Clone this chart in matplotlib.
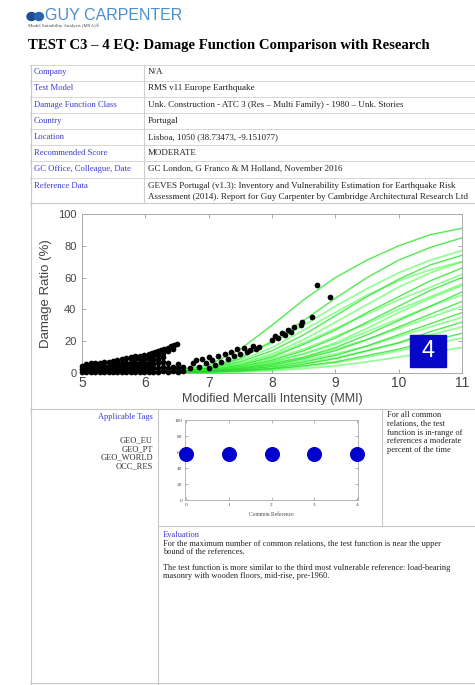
import matplotlib
matplotlib.use('Agg')
import matplotlib.pyplot as plt
from matplotlib.lines import Line2D
from matplotlib.patches import Rectangle, Ellipse

SERIF = ['Liberation Serif', 'DejaVu Serif']
SANS = ['Liberation Sans', 'DejaVu Sans']
plt.rcParams['font.family'] = SANS

# ---------------- data ----------------
title = "TEST C3 \u2013 4 EQ: Damage Function Comparison with Research"
table_labels = ["Company", "Test Model", "Damage Function Class", "Country", "Location",
                "Recommended Score", "GC Office, Colleague, Date", "Reference Data"]
table_values = ["N/A",
                "RMS v11 Europe Earthquake",
                "Unk. Construction - ATC 3 (Res \u2013 Multi Family) - 1980 \u2013 Unk. Stories",
                "Portugal",
                "Lisboa, 1050 (38.73473, -9.151077)",
                "MODERATE",
                "GC London, G Franco & M Holland, November 2016",
                "GEVES Portugal (v1.3): Inventory and Vulnerability Estimation for Earthquake Risk\n"
                "Assessment (2014). Report for Guy Carpenter by Cambridge Architectural Research Ltd"]

mmi_grid = [5.0, 5.5, 6.0, 6.5, 7.0, 7.5, 8.0, 8.5, 9.0, 9.5, 10.0, 10.5, 11.0]
ref_curves = [
    [0, 0, 0.5, 2.0, 5.0, 15, 30, 46, 60, 71, 80, 87, 91],
    [0, 0, 0.3, 1.0, 3.0, 9, 20, 33, 47, 60, 71, 79, 85],
    [0, 0, 0.4, 1.5, 4.0, 10, 19, 30, 42, 53, 63, 71, 77],
    [0, 0, 0.3, 1.0, 3.0, 7, 14, 24, 36, 48, 59, 68, 74],
    [0, 0, 0.3, 1.2, 3.0, 8, 16, 27, 38, 49, 58, 65, 70],
    [0, 0, 0.2, 1.0, 2.5, 6, 12, 21, 32, 43, 54, 63, 70],
    [0, 0, 0.2, 0.8, 2.0, 5, 10, 18, 27, 38, 48, 58, 66],
    [0, 0, 0.2, 0.8, 2.2, 5.5, 11, 19, 28, 37, 46, 54, 62],
    [0, 0, 0.1, 0.5, 1.5, 4, 8, 14, 22, 32, 42, 52, 60],
    [0, 0, 0.1, 0.6, 1.8, 4.5, 9, 15, 23, 31, 40, 48, 56],
    [0, 0, 0.1, 0.5, 1.5, 3.5, 7, 12, 19, 28, 38, 47, 55],
    [0, 0, 0.1, 0.4, 1.2, 3, 6, 10, 16, 24, 33, 42, 51],
    [0, 0, 0.1, 0.5, 1.4, 3.5, 7, 12, 18, 26, 34, 42, 49],
    [0, 0, 0.1, 0.4, 1.0, 2.5, 5, 9, 14, 21, 29, 37, 45],
    [0, 0, 0.1, 0.4, 1.1, 2.8, 5.5, 9.5, 15, 21, 28, 35, 42],
    [0, 0, 0.1, 0.3, 1.0, 2, 4, 7, 11, 17, 24, 31, 38],
    [0, 0, 0.1, 0.3, 0.9, 2.2, 4.5, 8, 12, 17, 23, 29, 35],
    [0, 0, 0.0, 0.2, 0.7, 1.5, 3, 5.5, 9, 14, 19, 26, 32],
    [0, 0, 0.0, 0.2, 0.6, 1.5, 3.5, 6, 9.5, 14, 19, 24, 29],
    [0, 0, 0.0, 0.2, 0.5, 1.2, 2.5, 4.5, 7, 11, 15, 20, 25],
    [0, 0, 0.0, 0.1, 0.4, 1.0, 2.2, 4, 6.5, 10, 14, 18, 22],
    [0, 0, 0.0, 0.1, 0.3, 0.7, 1.5, 2.8, 4.5, 7, 10, 13, 16],
]
dark_curves = [0, 1, 3, 6, 8, 11, 13, 15, 17, 19]

test_points = [
    (5.00, 0.5), (5.00, 2.5), (5.00, 4.5),
    (5.07, 0.5), (5.07, 2.5), (5.07, 4.5), (5.07, 5.5),
    (5.14, 0.5), (5.14, 2.5), (5.14, 4.5), (5.14, 6.0),
    (5.21, 0.5), (5.21, 2.5), (5.21, 4.5), (5.21, 6.2),
    (5.28, 0.5), (5.28, 2.5), (5.28, 4.5), (5.28, 6.5),
    (5.35, 0.5), (5.35, 2.5), (5.35, 4.5), (5.35, 6.8),
    (5.42, 0.5), (5.42, 2.5), (5.42, 4.5), (5.42, 7.2),
    (5.49, 0.5), (5.49, 2.5), (5.49, 4.5), (5.49, 6.5), (5.49, 7.8),
    (5.56, 0.5), (5.56, 2.5), (5.56, 4.5), (5.56, 6.5), (5.56, 8.3),
    (5.63, 0.5), (5.63, 2.5), (5.63, 4.5), (5.63, 6.5), (5.63, 8.8),
    (5.70, 0.5), (5.70, 2.5), (5.70, 4.5), (5.70, 6.5), (5.70, 9.3),
    (5.77, 0.5), (5.77, 2.5), (5.77, 4.5), (5.77, 6.5), (5.77, 8.5), (5.77, 9.8),
    (5.84, 0.5), (5.84, 2.5), (5.84, 4.5), (5.84, 6.5), (5.84, 8.5), (5.84, 10.4),
    (5.91, 0.5), (5.91, 2.5), (5.91, 4.5), (5.91, 6.5), (5.91, 8.5), (5.91, 11.0),
    (5.98, 0.5), (5.98, 2.5), (5.98, 4.5), (5.98, 6.5), (5.98, 8.5), (5.98, 11.5),
    (6.05, 12.2), (6.10, 12.8), (6.15, 13.4), (6.20, 14.0), (6.25, 14.6),
    (6.30, 15.3), (6.35, 16.0), (6.40, 16.7), (6.45, 17.3), (6.50, 18.0),
    (6.05, 10.0), (6.12, 10.8), (6.20, 11.6), (6.28, 12.5), (6.36, 13.6), (6.44, 15.0),
    (6.05, 0.5), (6.05, 2.5), (6.05, 4.5), (6.05, 6.5), (6.05, 8.5),
    (6.12, 0.5), (6.12, 3.0), (6.12, 5.5), (6.12, 8.0),
    (6.20, 0.5), (6.20, 3.0), (6.20, 6.0), (6.20, 9.0),
    (6.28, 1.0), (6.28, 4.0), (6.28, 7.0), (6.28, 10.0),
    (6.36, 0.5), (6.36, 3.0), (6.36, 6.0),
    (6.44, 1.0), (6.44, 4.0), (6.52, 0.5), (6.52, 3.0), (6.52, 5.5),
    (6.60, 1.0), (6.60, 4.0),
    (6.70, 3.0), (6.75, 6.5), (6.80, 8.0), (6.85, 4.0), (6.90, 9.0), (6.95, 6.5),
    (7.00, 3.0), (7.00, 10.0), (7.05, 8.0), (7.10, 5.0), (7.15, 11.0), (7.20, 7.0),
    (7.25, 12.0), (7.30, 9.0), (7.35, 13.0), (7.40, 10.5), (7.45, 15.0), (7.50, 12.0),
    (7.55, 16.0), (7.60, 13.0), (7.65, 14.5), (7.70, 17.0), (7.75, 15.0), (7.80, 16.5),
    (8.00, 21.0), (8.05, 23.0), (8.10, 22.0), (8.15, 25.0), (8.20, 24.0), (8.25, 27.0),
    (8.30, 26.0), (8.35, 29.0), (8.45, 30.0), (8.48, 32.0), (8.63, 35.0),
    (8.71, 55.5), (8.92, 48.0),
]

tags = ["GEO_EU", "GEO_PT", "GEO_WORLD", "OCC_RES"]
common_ref = [0, 1, 2, 3, 4]
in_range_pct = [58, 58, 58, 58, 58]

summary_lines = ["For all common", "relations, the test", "function is in-range of",
                 "references a moderate", "percent of the time"]
evaluation_lines = [
    "For the maximum number of common relations, the test function is near the upper",
    "bound of the references.",
    "",
    "The test function is more similar to the third most vulnerable reference: load-bearing",
    "masonry with wooden floors, mid-rise, pre-1960.",
]

# ---------------- figure ----------------
W, H = 475, 685
fig = plt.figure(figsize=(W / 100, H / 100), dpi=100)


def fx(x):
    return x / W


def fy(y):
    return 1 - y / H


def hline(y, x0, x1, color='#c8c8c8', lw=0.8):
    fig.add_artist(Line2D([fx(x0), fx(x1)], [fy(y), fy(y)], color=color, lw=lw,
                          transform=fig.transFigure))


def vline(x, y0, y1, color='#c8c8c8', lw=0.8):
    fig.add_artist(Line2D([fx(x), fx(x)], [fy(y0), fy(y1)], color=color, lw=lw,
                          transform=fig.transFigure))


# logo
fig.add_artist(Ellipse((fx(31.5), fy(16.5)), 9 / W, 8 / H, color='#1d4f91', transform=fig.transFigure))
fig.add_artist(Ellipse((fx(39.0), fy(16.5)), 9 / W, 8 / H, color='#2a64b0', transform=fig.transFigure))
fig.text(fx(45), fy(15.5), "GUY CARPENTER", fontsize=11.5, color='#4a8fd0', va='center', ha='left',
         family=SANS)
fig.text(fx(28), fy(26), "Model Suitability Analysis (MSA)\u00ae", fontsize=3.5, color='#444444',
         va='center', ha='left', family=SERIF)
fig.text(fx(28), fy(45), title, fontsize=10.6, fontweight='bold', va='center', ha='left', family=SERIF)

# table grid
row_tops = [65, 80.5, 96.5, 113, 129, 145, 161, 177.5]
for y in row_tops:
    hline(y, 30, 475, color='#d6d6d6', lw=0.7)
hline(203, 30, 475)
vline(144, 65, 203, color='#d0d0d0')
vline(31, 65, 684)
row_centers = [72.5, 88.5, 105, 121, 137, 153, 169, 186]
for lab, val, yc in zip(table_labels, table_values, row_centers):
    fig.text(fx(34), fy(yc), lab, fontsize=6.2, color='#3a3ad8', va='center', ha='left', family=SERIF)
    if '\n' in val:
        l1, l2 = val.split('\n')
        fig.text(fx(148), fy(yc), l1, fontsize=6.5, color='#222222', va='center', ha='left', family=SERIF)
        fig.text(fx(148), fy(yc + 11.5), l2, fontsize=6.5, color='#222222', va='center', ha='left',
                 family=SERIF)
    else:
        fig.text(fx(148), fy(yc), val, fontsize=6.5, color='#222222', va='center', ha='left', family=SERIF)

# main chart
ax = fig.add_axes([fx(82), fy(373), 380 / W, 159 / H])
for i, c in enumerate(ref_curves):
    ax.plot(mmi_grid, c, color='#3dff3d', lw=1.3, alpha=0.55, zorder=2)
for i in dark_curves:
    ax.plot(mmi_grid, ref_curves[i], color='#36c236', lw=0.4, alpha=0.9, zorder=3)
px = [p[0] for p in test_points]
py = [p[1] for p in test_points]
ax.scatter(px, py, s=17, color='black', linewidths=0, zorder=4, clip_on=False)
ax.set_xlim(5, 11)
ax.set_ylim(0, 100)
ax.set_xticks([5, 6, 7, 8, 9, 10, 11])
ax.set_yticks([0, 20, 40, 60, 80, 100])
ax.tick_params(direction='in', top=True, right=True, length=3, width=0.6, color='#999999',
               labelcolor='#444444')
ax.tick_params(axis='x', labelsize=10, pad=2.5)
ax.tick_params(axis='y', labelsize=8, pad=4)
for s in ax.spines.values():
    s.set_color('#aaaaaa')
    s.set_linewidth(0.7)
ax.set_xlabel("Modified Mercalli Intensity (MMI)", fontsize=9, color='#444444')
ax.xaxis.set_label_coords(0.5, -0.125)
ax.set_ylabel("Damage Ratio (%)", fontsize=9.5, color='#444444')
ax.yaxis.set_label_coords(-0.078, 0.5)
ax.add_patch(Rectangle((0.863, 0.038), 0.095, 0.201, transform=ax.transAxes, color='#0707c8', zorder=6))
ax.text(0.9105, 0.1385, "4", transform=ax.transAxes, color='white', fontsize=17, ha='center',
        va='center', zorder=7)

# lower section grid
hline(409, 30, 475)
vline(158, 409, 684)
vline(382, 409, 526)
hline(526, 158, 475)
hline(683, 30, 475)

fig.text(fx(153), fy(417), "Applicable Tags", fontsize=6.0, color='#3a3ad8', ha='right', va='center',
         family=SERIF)
for t, y in zip(tags, [440, 449, 457.5, 466]):
    fig.text(fx(153), fy(y), t, fontsize=6.0, color='#333333', ha='right', va='center', family=SERIF)

sax = fig.add_axes([fx(185), fy(500), 173 / W, 80 / H])
sax.plot(common_ref, in_range_pct, 'o', ms=9.8, color='#0000cc', clip_on=False, zorder=5)
sax.set_xlim(-0.03, 4.03)
sax.set_ylim(0, 100)
sax.set_xticks([0, 1, 2, 3, 4])
sax.set_yticks([0, 20, 40, 60, 80, 100])
sax.tick_params(direction='in', top=True, right=True, length=2, width=0.5, color='#999999',
                labelsize=3.8, labelcolor='#444444', pad=2)
for lbl in sax.get_xticklabels() + sax.get_yticklabels():
    lbl.set_family(SERIF)
for s in sax.spines.values():
    s.set_color('#aaaaaa')
    s.set_linewidth(0.6)
sax.set_xlabel("Common Reference", fontsize=4, color='#444444', family=SERIF, labelpad=4)

for i, line in enumerate(summary_lines):
    fig.text(fx(387), fy(415 + i * 8.8), line, fontsize=6.0, color='#222222', ha='left', va='center',
             family=SERIF)

fig.text(fx(163), fy(535), "Evaluation", fontsize=6.0, color='#3a3ad8', ha='left', va='center',
         family=SERIF)
for line, y in zip(evaluation_lines, [544, 552.5, 560, 568, 576.5]):
    if line:
        fig.text(fx(163), fy(y), line, fontsize=6.0, color='#222222', ha='left', va='center',
                 family=SERIF)

fig.savefig('out.png', dpi=100)
